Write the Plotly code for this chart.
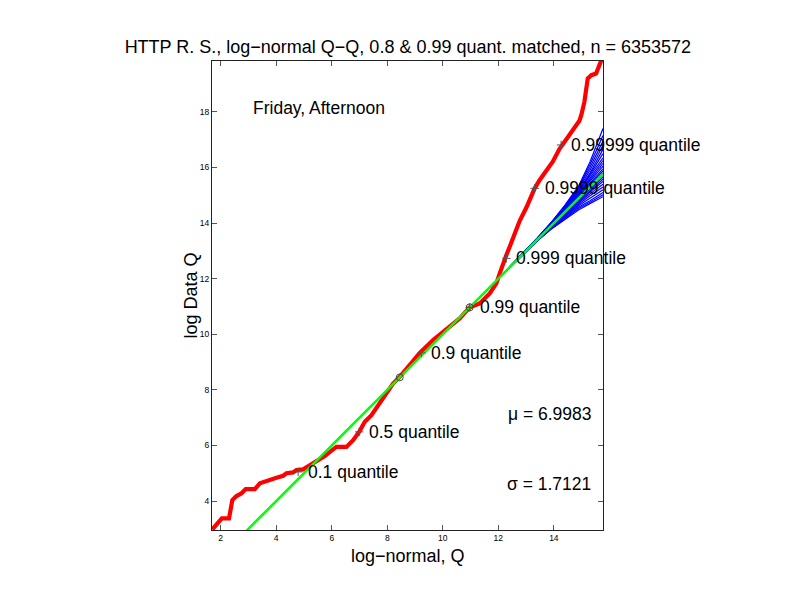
import plotly.graph_objects as go

# ---- data ----
red_x = [1.70, 1.91, 2.04, 2.30, 2.42, 2.57, 2.75, 2.90, 3.23, 3.41, 3.65, 3.77, 4.01, 4.25,
         4.37, 4.61, 4.73, 4.97, 5.27, 5.51, 5.75, 6.05, 6.17, 6.53, 6.77, 6.99, 7.19, 7.43,
         7.67, 7.97, 8.21, 8.45, 8.81, 9.17, 9.65, 10.25, 10.61, 10.97, 11.33, 11.69, 11.93,
         12.05, 12.17, 12.29, 12.41, 12.59, 12.77, 13.01, 13.31, 13.49, 13.73, 13.96, 14.20,
         14.45, 14.68, 14.92, 14.99, 15.10, 15.22, 15.35, 15.52, 15.64, 15.76]
red_y = [2.98, 3.20, 3.38, 3.38, 4.04, 4.18, 4.28, 4.43, 4.43, 4.64, 4.72, 4.79, 4.84, 4.91,
         5.00, 5.03, 5.12, 5.14, 5.33, 5.45, 5.62, 5.86, 5.95, 5.95, 6.19, 6.49, 6.85, 7.09,
         7.45, 7.87, 8.23, 8.47, 8.89, 9.33, 9.79, 10.27, 10.57, 10.97, 11.11, 11.47, 11.83,
         12.19, 12.55, 12.85, 13.15, 13.63, 14.08, 14.56, 15.25, 15.55, 15.91, 16.21, 16.66,
         17.02, 17.35, 17.68, 17.89, 18.36, 19.20, 19.32, 19.38, 19.68, 19.98]

line_x = [1.69, 15.77]
line_y = [1.69, 15.77]

blue_x = [12.0, 12.8, 13.4, 13.9, 14.4, 14.9, 15.3, 15.77]
blue_lines = [
    [12.00, 12.82, 13.46, 14.02, 14.65, 15.35, 16.20, 17.40],
    [12.00, 12.82, 13.46, 14.01, 14.62, 15.32, 16.10, 17.15],
    [12.00, 12.82, 13.45, 14.00, 14.60, 15.30, 16.00, 16.95],
    [12.00, 12.82, 13.45, 13.99, 14.58, 15.25, 15.90, 16.80],
    [12.00, 12.81, 13.44, 13.98, 14.55, 15.20, 15.80, 16.65],
    [12.00, 12.81, 13.44, 13.97, 14.53, 15.16, 15.75, 16.50],
    [12.00, 12.81, 13.43, 13.96, 14.52, 15.12, 15.70, 16.35],
    [12.00, 12.81, 13.43, 13.95, 14.50, 15.08, 15.62, 16.25],
    [12.00, 12.80, 13.42, 13.94, 14.48, 15.05, 15.55, 16.15],
    [12.00, 12.80, 13.42, 13.93, 14.46, 15.02, 15.50, 16.05],
    [12.00, 12.80, 13.41, 13.92, 14.45, 15.00, 15.45, 15.95],
    [12.00, 12.80, 13.41, 13.91, 14.43, 14.96, 15.40, 15.88],
    [12.00, 12.80, 13.40, 13.90, 14.42, 14.93, 15.35, 15.80],
    [12.00, 12.80, 13.40, 13.89, 14.40, 14.89, 15.28, 15.72],
    [12.00, 12.80, 13.39, 13.88, 14.37, 14.85, 15.22, 15.65],
    [12.00, 12.80, 13.39, 13.87, 14.35, 14.81, 15.17, 15.58],
    [12.00, 12.80, 13.38, 13.86, 14.32, 14.78, 15.12, 15.50],
    [12.00, 12.80, 13.38, 13.85, 14.30, 14.73, 15.05, 15.40],
    [12.00, 12.79, 13.37, 13.83, 14.27, 14.68, 14.98, 15.30],
    [12.00, 12.79, 13.37, 13.82, 14.23, 14.63, 14.89, 15.20],
    [12.00, 12.79, 13.36, 13.80, 14.20, 14.58, 14.80, 15.10],
    [12.00, 12.79, 13.36, 13.79, 14.17, 14.53, 14.75, 15.02],
    [12.00, 12.78, 13.35, 13.78, 14.14, 14.48, 14.70, 14.95],
]

match_x = [8.45, 10.97]
match_y = [8.45, 10.97]

q_labels = ["0.1 quantile", "0.5 quantile", "0.9 quantile", "0.99 quantile",
            "0.999 quantile", "0.9999 quantile", "0.99999 quantile"]
q_x = [4.79, 6.99, 9.23, 10.97, 12.29, 13.31, 14.26]
q_y = [5.05, 6.49, 9.33, 10.97, 12.73, 15.25, 16.81]

x_ticks = [2, 4, 6, 8, 10, 12, 14]
y_ticks = [4, 6, 8, 10, 12, 14, 16, 18]

title_text = "HTTP R. S., log\u2212normal Q\u2212Q, 0.8 & 0.99 quant. matched, n = 6353572"
mu_text = "\u03bc = 6.9983"
sigma_text = "\u03c3 = 1.7121"

FONT = "Liberation Sans, Arial, sans-serif"

fig = go.Figure()
fig.add_trace(go.Scatter(x=red_x, y=red_y, mode="lines",
                         line=dict(color="#ff0000", width=4.2), hoverinfo="skip"))
for bl in blue_lines:
    fig.add_trace(go.Scatter(x=blue_x, y=bl, mode="lines",
                             line=dict(color="#0000ff", width=1.2), hoverinfo="skip"))
fig.add_trace(go.Scatter(x=line_x, y=line_y, mode="lines",
                         line=dict(color="#00ff00", width=2.5), hoverinfo="skip"))
fig.add_trace(go.Scatter(x=q_x, y=q_y, mode="markers",
                         marker=dict(symbol="cross-thin", size=6,
                                     line=dict(color="#555555", width=1)), hoverinfo="skip"))
fig.add_trace(go.Scatter(x=match_x, y=match_y, mode="markers",
                         marker=dict(symbol="circle-open", size=7, color="#444444",
                                     line=dict(color="#444444", width=1)), hoverinfo="skip"))

for lab, qx, qy in zip(q_labels, q_x, q_y):
    fig.add_annotation(x=qx, y=qy, text=lab, showarrow=False, xanchor="left",
                       yanchor="middle", xshift=8, font=dict(size=17.5, color="black", family=FONT))

fig.add_annotation(x=3.09, y=18.14, text="Friday, Afternoon", showarrow=False,
                   xanchor="left", yanchor="middle", font=dict(size=17.5, color="black", family=FONT))
fig.add_annotation(x=12.26, y=7.13, text=mu_text, showarrow=False,
                   xanchor="left", yanchor="middle", font=dict(size=17.5, color="black", family=FONT))
fig.add_annotation(x=12.23, y=4.61, text=sigma_text, showarrow=False,
                   xanchor="left", yanchor="middle", font=dict(size=17.5, color="black", family=FONT))

# axis titles
fig.add_annotation(xref="paper", yref="paper", x=0.5, y=-0.055, text="log\u2212normal, Q",
                   showarrow=False, xanchor="center", yanchor="middle",
                   font=dict(size=18, color="black", family=FONT))
fig.add_annotation(xref="paper", yref="paper", x=-0.056, y=0.5, text="log Data Q",
                   showarrow=False, xanchor="center", yanchor="middle", textangle=-90,
                   font=dict(size=18, color="black", family=FONT))

axis_common = dict(showgrid=False, zeroline=False, showline=True, linecolor="#222222",
                   linewidth=1, mirror="ticks", ticks="inside", ticklen=5, tickcolor="#555555",
                   tickfont=dict(size=8.5, color="black", family=FONT))
fig.update_xaxes(range=[1.687, 15.77], tickvals=x_ticks, ticktext=[str(v) for v in x_ticks],
                 **axis_common)
fig.update_yaxes(range=[2.96, 19.83], tickvals=y_ticks, ticktext=[str(v) for v in y_ticks],
                 **axis_common)

fig.update_layout(
    width=792, height=612,
    margin=dict(l=212, r=189, t=61, b=82),
    paper_bgcolor="white", plot_bgcolor="white",
    showlegend=False,
    title=dict(text=title_text, x=0.515, xanchor="center", y=1 - 47 / 612, yanchor="middle",
               font=dict(size=18, color="black", family=FONT)),
)

fig.write_html("out.html", config={"displayModeBar": False},
               post_script="document.body.style.margin='0';")
